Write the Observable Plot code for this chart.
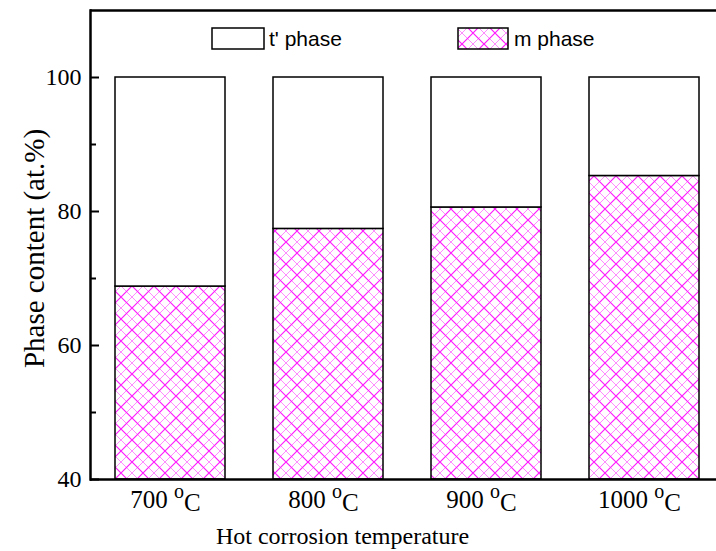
<!DOCTYPE html>
<html>
<head>
<meta charset="utf-8">
<script src="https://cdn.jsdelivr.net/npm/d3@7"></script>
<script src="https://cdn.jsdelivr.net/npm/@observablehq/plot@0.6"></script>
<style>
  html, body { margin: 0; padding: 0; background: #fff; }
  #chart svg { display: block; }
</style>
</head>
<body>
<div id="chart"></div>
<script>
// ---- data ----
const temperatures = ["700", "800", "900", "1000"];
const mPhase = [68.8, 77.4, 80.6, 85.3];   // m phase content (at.%)
const tPhaseTop = [100, 100, 100, 100];    // total
const yTicks = [40, 60, 80, 100];
const yMinorTicks = [50, 70, 90];
const legendLabels = ["t' phase", "m phase"];
const xTitle = "Hot corrosion temperature";
const yTitle = "Phase content (at.%)";

const rows = temperatures.map((t, i) => ({t, m: mPhase[i], top: tPhaseTop[i]}));

const W = 716, H = 551, ML = 90, MT = 10, MB = 72;
const serif = "'Liberation Serif', 'Times New Roman', serif";

const plot = Plot.plot({
  width: W, height: H,
  marginLeft: ML, marginRight: 0, marginTop: MT, marginBottom: MB,
  style: {background: "#fff", color: "#000", fontFamily: serif, fontSize: "24px"},
  x: {domain: temperatures, range: [ML, 724], paddingInner: 0.303, paddingOuter: 0.151, label: null},
  y: {domain: [40, 110], label: null},
  marks: [
    Plot.barY(rows, {x: "t", y1: 40, y2: "m", fill: "url(#mhatch)", stroke: "#000", strokeWidth: 1.5}),
    Plot.barY(rows, {x: "t", y1: "m", y2: "top", fill: "#fff", stroke: "#000", strokeWidth: 1.5}),
    Plot.ruleY([40], {stroke: "#000", strokeWidth: 2.5}),
    Plot.ruleY([110], {stroke: "#000", strokeWidth: 2.5}),
    Plot.frame({anchor: "left", stroke: "#000", strokeWidth: 2.5}),
    Plot.ruleY(yTicks, {y: d => d, insetRight: W - ML - 9, stroke: "#000", strokeWidth: 2}),
    Plot.ruleY(yMinorTicks, {y: d => d, insetRight: W - ML - 6, stroke: "#000", strokeWidth: 2}),
    Plot.axisY({ticks: yTicks, tickSize: 0, tickPadding: 9, fontSize: 24, label: null}),
    Plot.axisX({tickSize: 0, tickPadding: 11, fontSize: 25, label: null}),
    Plot.text([xTitle], {text: d => d, frameAnchor: "bottom-left", dx: 342 - ML, dy: 64, fontSize: 24, textAnchor: "middle", lineAnchor: "bottom"}),
    Plot.text([yTitle], {text: d => d, frameAnchor: "left", dx: -56, dy: 248 - (MT + (H - MB - MT) / 2), rotate: -90, fontSize: 29, textAnchor: "middle"})
  ]
});

const svg = d3.select(plot);
// force serif on all chart texts
svg.selectAll("text").attr("font-family", serif).style("font-family", serif).style("font-variant", "normal");

const defs = svg.insert("defs", ":first-child");
const pat = defs.append("pattern").attr("id", "mhatch").attr("patternUnits", "userSpaceOnUse")
  .attr("width", 22).attr("height", 22);
pat.append("rect").attr("width", 22).attr("height", 22).attr("fill", "#fff");
pat.append("path").attr("d", "M0,11L11,0M11,22L22,11M0,11L11,22M11,0L22,11")
  .attr("stroke", "#ff8cff").attr("stroke-width", 1).attr("fill", "none");
pat.append("path").attr("d", "M0,22L22,0M-2,2L2,-2M20,24L24,20M0,0L22,22M-2,20L2,24M20,-2L24,2")
  .attr("stroke", "#ff1aff").attr("stroke-width", 1.2).attr("fill", "none");

// superscript "o" in x tick labels
svg.selectAll("g[aria-label='x-axis tick label'] text").each(function() {
  const t = d3.select(this);
  const v = t.text();
  t.text(null);
  t.append("tspan").text(v + " ");
  t.append("tspan").attr("dy", "-0.5em").attr("font-size", 20).text("o");
  t.append("tspan").attr("dy", "0.5em").text("C");
}).attr("dx", -5);

// legend (inside frame)
const lg = svg.append("g").attr("font-family", "'Liberation Sans', Arial, sans-serif").attr("font-size", 21).attr("text-anchor", "start");
lg.append("rect").attr("x", 212).attr("y", 28).attr("width", 52).attr("height", 21)
  .attr("fill", "#fff").attr("stroke", "#000").attr("stroke-width", 1.5);
lg.append("text").attr("x", 269).attr("y", 46).style("font-family", "'Liberation Sans', Arial, sans-serif").text(legendLabels[0]);
lg.append("rect").attr("x", 458).attr("y", 28).attr("width", 50).attr("height", 21)
  .attr("fill", "url(#mhatch)").attr("stroke", "#000").attr("stroke-width", 1.5);
lg.append("text").attr("x", 514).attr("y", 46).style("font-family", "'Liberation Sans', Arial, sans-serif").text(legendLabels[1]);

document.getElementById("chart").appendChild(plot);
</script>
</body>
</html>
